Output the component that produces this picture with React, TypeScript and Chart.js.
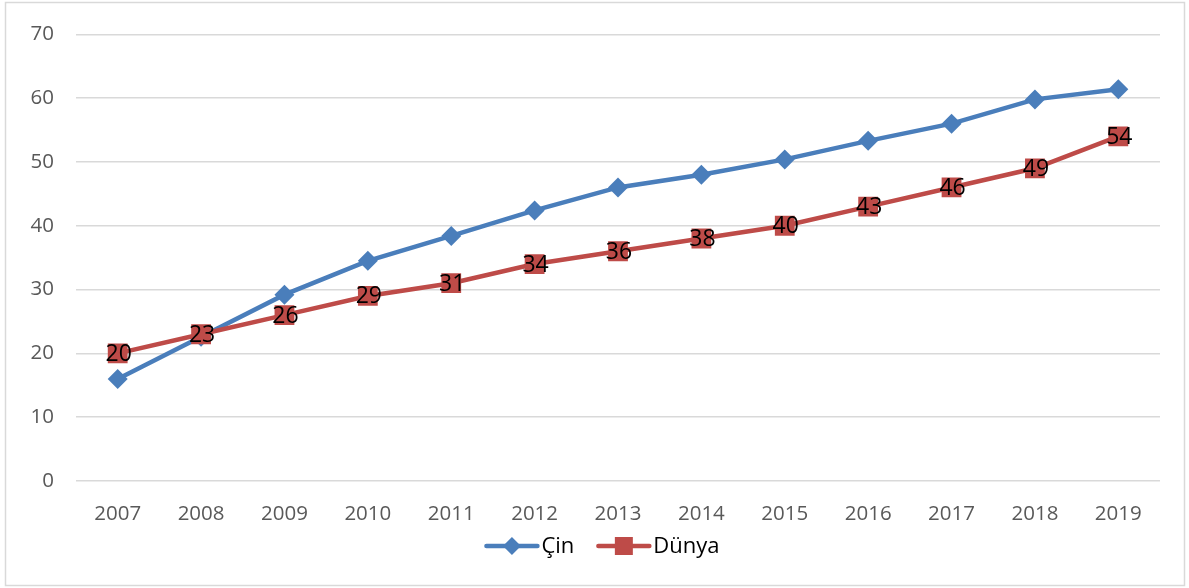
import React, { useEffect, useRef } from "react";
import { Chart, registerables } from "chart.js";

Chart.register(...registerables);

const years = ["2007", "2008", "2009", "2010", "2011", "2012", "2013", "2014", "2015", "2016", "2017", "2018", "2019"];
const cinValues = [16, 22.6, 29.2, 34.5, 38.4, 42.4, 46, 48, 50.4, 53.3, 56, 59.8, 61.4];
const dunyaValues = [20, 23, 26, 29, 31, 34, 36, 38, 40, 43, 46, 49, 54];
const seriesNames = ["Çin", "Dünya"];
const yTicks = { min: 0, max: 70, step: 10 };

const BLUE = "#4a7ebb";
const RED = "#be4b48";
const FONT = "'Open Sans', 'Liberation Sans', sans-serif";

const frameAndLegend = {
  id: "frameAndLegend",
  beforeDraw(chart: any) {
    const ctx = chart.ctx;
    ctx.save();
    ctx.fillStyle = "#ffffff";
    ctx.fillRect(0, 0, chart.width, chart.height);
    ctx.strokeStyle = "#d9d9d9";
    ctx.lineWidth = 1.5;
    ctx.strokeRect(5.5, 2.5, chart.width - 10, chart.height - 5);
    ctx.restore();
  },
  afterDatasetsDraw(chart: any) {
    const ctx = chart.ctx;
    const dsIndex = chart.data.datasets.findIndex((d: any) => d.label === "Dünya");
    const meta = chart.getDatasetMeta(dsIndex);
    ctx.save();
    ctx.font = `23px ${FONT}`;
    ctx.fillStyle = "#000000";
    ctx.textAlign = "center";
    ctx.textBaseline = "middle";
    meta.data.forEach((pt: any, i: number) => {
      ctx.fillText(String(chart.data.datasets[dsIndex].data[i]), pt.x + 1, pt.y + 1);
    });
    ctx.restore();
  },
  afterDraw(chart: any) {
    const ctx = chart.ctx;
    const area = chart.chartArea;
    ctx.save();
    ctx.font = `22px ${FONT}`;
    ctx.textBaseline = "middle";
    ctx.textAlign = "left";
    const sampleW = 55;
    const gapText = 2;
    const gapItems = 22;
    const items = chart.data.datasets.map((d: any) => ({
      label: d.label,
      color: d.borderColor,
      style: d.pointStyle,
      w: sampleW + gapText + ctx.measureText(d.label).width,
    }));
    const total = items.reduce((s: number, it: any) => s + it.w, 0) + gapItems * (items.length - 1);
    let x = (area.left + area.right) / 2 - 16 - total / 2;
    const y = area.bottom + 65;
    items.forEach((it: any) => {
      ctx.strokeStyle = it.color;
      ctx.lineWidth = 4.5;
      ctx.lineCap = "round";
      ctx.beginPath();
      ctx.moveTo(x + 2, y);
      ctx.lineTo(x + sampleW - 2, y);
      ctx.stroke();
      ctx.fillStyle = it.color;
      const cx = x + sampleW / 2;
      ctx.beginPath();
      if (it.style === "rectRot") {
        const r = 9;
        ctx.moveTo(cx - r, y);
        ctx.lineTo(cx, y - r);
        ctx.lineTo(cx + r, y);
        ctx.lineTo(cx, y + r);
        ctx.closePath();
      } else {
        ctx.rect(cx - 9, y - 9, 18, 18);
      }
      ctx.fill();
      ctx.fillStyle = "#000000";
      ctx.fillText(it.label, x + sampleW + gapText, y + 1);
      x += it.w + gapItems;
    });
    ctx.restore();
  },
};

export default function App() {
  const ref = useRef<HTMLCanvasElement>(null);
  useEffect(() => {
    document.body.style.margin = "0";
    const chart = new Chart(ref.current as HTMLCanvasElement, {
      type: "line",
      data: {
        labels: years,
        datasets: [
          {
            label: seriesNames[0],
            data: cinValues,
            borderColor: BLUE,
            backgroundColor: BLUE,
            borderWidth: 4.5,
            pointStyle: "rectRot",
            pointRadius: 10,
            pointHoverRadius: 10,
            pointBorderWidth: 0,
            tension: 0,
            order: 1,
          },
          {
            label: seriesNames[1],
            data: dunyaValues,
            borderColor: RED,
            backgroundColor: RED,
            borderWidth: 4.5,
            pointStyle: "rect",
            pointRadius: 14,
            pointHoverRadius: 14,
            pointBorderWidth: 0,
            tension: 0,
            order: 0,
          },
        ],
      },
      options: {
        responsive: false,
        animation: false,
        events: [],
        layout: { padding: { top: 31, right: 29, left: 0, bottom: 0 } },
        plugins: { legend: { display: false }, tooltip: { enabled: false } },
        scales: {
          x: {
            offset: true,
            grid: { display: false, drawTicks: false },
            border: { display: false },
            ticks: { color: "#595959", font: { family: FONT, size: 20.5 }, padding: 21, maxRotation: 0 },
            afterFit: (s: any) => { s.height = 107; },
          },
          y: {
            min: yTicks.min,
            max: yTicks.max,
            grid: { color: "#d9d9d9", lineWidth: 1.5, drawTicks: false },
            border: { display: false },
            ticks: { stepSize: yTicks.step, color: "#595959", font: { family: FONT, size: 20.5 }, padding: 22 },
            afterFit: (s: any) => { s.width = 76; },
          },
        },
      },
      plugins: [frameAndLegend],
    });
    return () => chart.destroy();
  }, []);
  return (
    <div style={{ width: 1189, height: 588 }}>
      <canvas ref={ref} width={1189} height={588} />
    </div>
  );
}
